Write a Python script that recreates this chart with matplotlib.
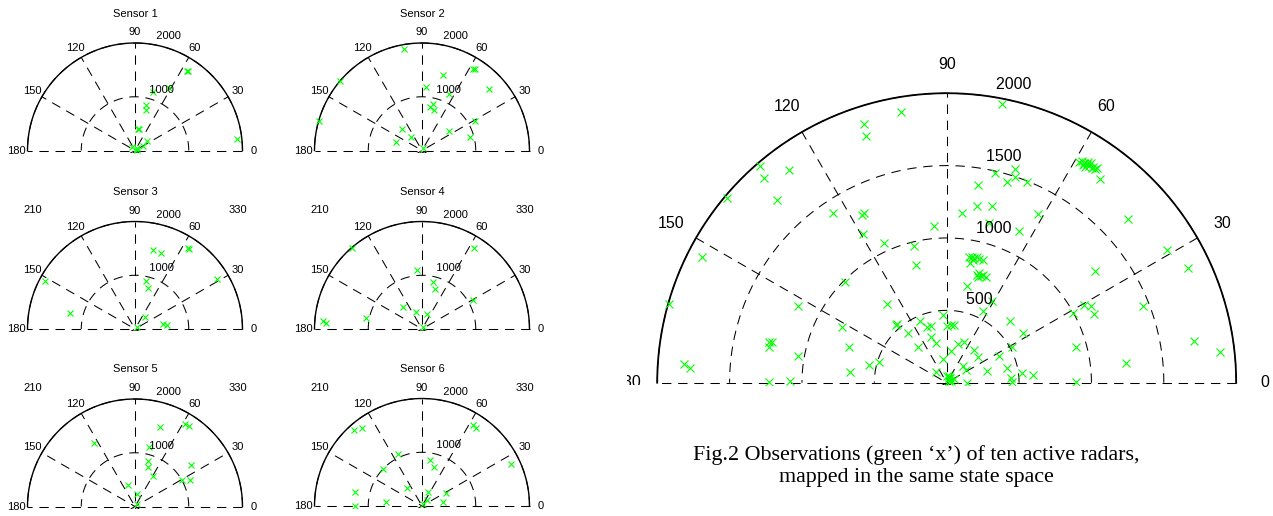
import numpy as np
import matplotlib.pyplot as plt

plt.rcParams['font.family'] = ['Liberation Sans', 'DejaVu Sans']

# ---- data: bearing (deg) and range of each observation ----
sensor_names = ['Sensor 1', 'Sensor 2', 'Sensor 3', 'Sensor 4', 'Sensor 5', 'Sensor 6']

theta1 = [56.8, 56.0, 61.2, 72.7, 76.5, 74.6, 83, 80, 6.5, 38.5, 31, 132, 54, 20]
range1 = [1765, 1775, 1323, 1144, 880, 772, 404, 410, 1916, 278, 168, 83, 54, 40]

theta2 = [99.9, 139.7, 164, 57.8, 57.0, 42.6, 74.1, 86.1, 64.6, 76.7, 79.9, 72.9,
          28.8, 34.8, 15.6, 132.8, 128.8, 162.7, 70]
range2 = [1921, 2000, 1990, 1789, 1811, 1693, 1452, 1181, 1165, 897, 822, 783,
          1124, 622, 925, 542, 319, 503, 54]

theta3 = [77, 71, 56.9, 56.2, 152, 31.1, 77.4, 71.9, 166.4, 50, 9.6, 6.6, 54]
range3 = [1508, 1501, 1793, 1797, 1895, 1789, 909, 796, 1244, 298, 522, 593, 54]

theta4 = [131, 57.2, 95.2, 76.4, 71.5, 30, 130, 109, 73, 169.2, 175.2, 176.4, 70]
range4 = [1996, 1802, 1095, 897, 783, 1086, 544, 342, 299, 1065, 1851, 1798, 34]

theta5 = [72.3, 58.4, 56.3, 122.9, 76.4, 74.5, 72.1, 36.4, 60, 29, 25.4, 107.6, 82.3, 49]
range5 = [1557, 1793, 1797, 1410, 1141, 886, 772, 1301, 662, 1004, 1131, 412, 232, 66]

theta6 = [131.8, 127.7, 57.7, 55.5, 115, 79.8, 72.6, 136.3, 25.2, 129.3, 167.9, 68.3,
          27.9, 48.5, 174.2, 11.6, 179.7, 70]
range6 = [1906, 1835, 1792, 1770, 1059, 873, 770, 1001, 1831, 443, 1275, 288,
          508, 150, 682, 400, 1246, 40]

# all observations, mapped in the same state space
theta_all = [99.6, 107.7, 108.2, 130.7, 126.6, 131.7, 139.9, 132.9, 123.7, 116.9, 116.0,
             119.5, 94.7, 114.1, 103.6, 104.4, 152.8, 164.1, 135.1, 152.7, 127.1, 152.1,
             131.5, 130.2, 127.5, 113, 109.9, 105.4, 108.8, 105.2, 129.4, 92.8, 90, 86.1,
             82.8, 73.2, 82.7, 98.8, 135.9, 167.2, 166.9, 168.7, 170, 160.2, 167, 162.8,
             173.9, 175.9, 176.8, 179.7, 179.3,
             78.8, 59, 58.7, 58, 58, 57.4, 56.7, 56.7, 55.9, 55.2, 55, 57.3, 57.4, 55.9,
             53, 77, 72.3, 71.6, 73.2, 68.3, 81.1, 80.4, 75.5, 85, 61.7, 64.5, 75.3,
             42, 31.1, 25.5, 36.9,
             79.7, 78.8, 77.5, 76.5, 75.2, 73.6, 77.7, 78.9,
             74.4, 73.5, 72.2, 71.2, 69.8, 73.3,
             78.3, 61.2, 63.4, 44.5, 32.9, 67.1, 49.7, 40, 29, 26.9, 46.2, 33.2, 16.3,
             13.4, 4.5, 0.5, 7.6, 5.3, 0.5, 28.8, 29.5, 28, 25, 21.4, 15.4, 6.2, 0.4,
             9.6, 6.5,
             52, 40, 60, 70, 20, 85, 30]
range_all = [1899, 1873, 1796, 1974, 1830, 1894, 1982, 1727, 1412, 1297, 1304,
             1180, 1086, 1055, 971, 842, 1903, 1997, 988, 1156, 684, 818,
             529, 528, 435, 465, 407, 408, 336, 282, 316, 466, 394, 402,
             404, 279, 218, 165, 103, 1256, 1241, 1249, 1043, 720, 553, 490,
             674, 1817, 1776, 1230, 1085,
             1960, 1781, 1793, 1792, 1773, 1794, 1791, 1813, 1801, 1795, 1807, 1773, 1812, 1788,
             1763, 1489, 1552, 1495, 1448, 1492, 1385, 1240, 1263, 1179, 1326, 1159, 1138,
             1688, 1775, 1848, 1281,
             880, 888, 880, 890, 886, 883, 867, 840,
             772, 788, 774, 786, 780, 760,
             682, 646, 556, 611, 628, 308, 296, 280, 513, 408, 160, 160, 288,
             426, 444, 451, 523, 597, 143, 994, 1090, 1129, 1121, 1457, 929, 1244, 896,
             1731, 1901,
             38, 20, 35, 50, 30, 45, 55]

caption = 'Fig.2 Observations (green \u2018x\u2019) of ten active radars,\nmapped in the same state space'

W, H = 1273, 516
fig = plt.figure(figsize=(W / 100, H / 100), dpi=100)


def add_axes_px(left, top, right, bottom):
    # axes box given in pixel coordinates (origin top-left)
    return fig.add_axes([left / W, 1 - bottom / H, (right - left) / W, (bottom - top) / H])


def matlab_polar(cx, cy, rpx, box, theta, rng, rmax, rinc, fs, ms, lw_out,
                 spill=(), title=None, clipped=()):
    # half polar plot in MATLAB's old polar() look, on a cartesian axes
    s = rmax / rpx
    l, t, r, b = box
    ax = add_axes_px(l, t, r, b)
    ax.set_xlim((l - cx) * s, (r - cx) * s)
    ax.set_ylim((cy - b) * s, (cy - t) * s)
    ax.axis('off')

    dash = dict(color='k', lw=0.75, dashes=(9, 6.5))
    th = np.linspace(0, np.pi, 300)
    ax.plot(rmax * np.cos(th), rmax * np.sin(th), color='k', lw=lw_out)
    c82, s82 = np.cos(np.radians(82)), np.sin(np.radians(82))
    for rr in np.arange(rinc, rmax + 1, rinc):
        ax.plot(rr * np.cos(th), rr * np.sin(th), **dash)
        ax.text((rr + rinc / 20) * c82, (rr + rinc / 20) * s82, '  %d' % rr,
                ha='left', va='bottom', fontsize=fs, clip_on=False)
    for a in range(30, 181, 30):
        ca, sa = np.cos(np.radians(a)), np.sin(np.radians(a))
        ax.plot([-rmax * ca, rmax * ca], [-rmax * sa, rmax * sa], **dash)

    rt = 1.1 * rmax
    for a in list(range(0, 181, 30)) + list(spill):
        ax.text(rt * np.cos(np.radians(a)), rt * np.sin(np.radians(a)), str(a),
                ha='center', va='center', fontsize=fs, clip_on=(a in clipped))

    t_rad = np.radians(theta)
    rng = np.asarray(rng)
    ax.plot(rng * np.cos(t_rad), rng * np.sin(t_rad), 'x', color=(0, 1, 0),
            ms=ms, mew=0.8, clip_on=True)
    if title:
        ax.text(0, 137 * s, title, ha='center', va='center', fontsize=8, clip_on=False)
    return ax


# ---- six small sensor plots ----
centers = [(135, 150.5), (422, 150.5), (135, 329), (422, 329), (135, 506.5), (422, 506)]
thetas = [theta1, theta2, theta3, theta4, theta5, theta6]
ranges = [range1, range2, range3, range4, range5, range6]
for k, ((cx, cy), th_i, r_i, name) in enumerate(zip(centers, thetas, ranges, sensor_names)):
    # labels 210 / 330 of the upper rows show up over the plot below
    spill = (210, 330) if k < 4 else ()
    matlab_polar(cx, cy, 107.5, (cx - 130, cy - 128, cx + 130, cy + 2), th_i, r_i,
                 2000, 1000, 8, 4, 1.0, spill=spill, title=name)

# ---- big plot with all observations ----
matlab_polar(946.7, 382.7, 289.5, (627, 40, 1273, 384.5), theta_all, range_all,
             2000, 500, 11.5, 6, 1.3, clipped=(180,))

fig.text(916.5 / W, 1 - 466 / H, caption, ha='center', va='center',
         fontsize=15.8, family='Liberation Serif', linespacing=1.2)

plt.savefig('out.png', dpi=100)
